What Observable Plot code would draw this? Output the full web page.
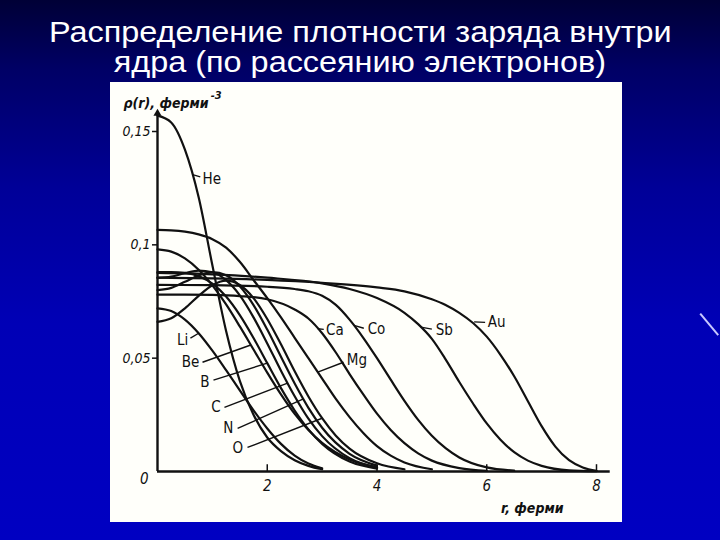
<!DOCTYPE html>
<html><head><meta charset="utf-8">
<script src="https://cdn.jsdelivr.net/npm/d3@7"></script>
<script src="https://cdn.jsdelivr.net/npm/@observablehq/plot@0.6"></script>
<style>
html,body{margin:0;padding:0;}
body{width:720px;height:540px;overflow:hidden;position:relative;
 background:linear-gradient(180deg,#000036 0%,#000066 13%,#000098 35%,#0000b6 60%,#0000c2 100%);
 font-family:"Liberation Sans",Arial,sans-serif;}
.tl{position:absolute;left:0;width:720px;text-align:center;color:#fff;font-size:30px;line-height:30px;height:30px;white-space:nowrap;}
.tl span{display:inline-block;transform:scaleX(1.08);}
#t1{top:17px;}
#t2{top:47px;}
#panel{position:absolute;left:110px;top:82px;width:512px;height:440px;background:#fffffa;}
#deco{position:absolute;left:701px;top:313px;width:28px;height:1.5px;background:#c8c8ff;transform:rotate(50deg);transform-origin:0 0;}
</style></head><body>
<div class="tl" id="t1"><span>Распределение плотности заряда внутри</span></div>
<div class="tl" id="t2"><span>ядра (по рассеянию электронов)</span></div>
<div id="panel"></div>
<div id="deco"></div>
<script>
// ---- data: r (fermi) and rho(r) (fermi^-3) ----
const curveNames = ["He","Li","Be","B","C","N","O","Mg","Ca","Co","Sb","Au"];

const rHe  = [0,0.25,0.5,0.75,1.0,1.25,1.5,1.75,2.0,2.25,2.5,2.75,3.0];
const rhoHe= [0.157,0.154,0.142,0.121,0.091,0.062,0.040,0.025,0.015,0.009,0.005,0.0025,0.001];

const rLi  = [0,0.25,0.5,0.75,1.0,1.25,1.5,1.75,2.0,2.25,2.5,2.75,3.0];
const rhoLi= [0.072,0.0708,0.0670,0.0610,0.0533,0.0447,0.0358,0.0270,0.0190,0.0122,0.0070,0.0035,0.0014];

const rP   = [0,0.25,0.5,0.75,1.0,1.25,1.5,1.75,2.0,2.25,2.5,2.75,3.0,3.5,4.0];
const rhoBe= [0.098,0.0970,0.0940,0.0890,0.0821,0.0737,0.0640,0.0538,0.0436,0.0340,0.0254,0.0183,0.0126,0.0053,0.0018];
const rhoB = [0.0880,0.0880,0.0876,0.0862,0.0829,0.0772,0.0690,0.0589,0.0478,0.0368,0.0269,0.0186,0.0122,0.0044,0.0013];
const rhoC = [0.0854,0.0860,0.0875,0.0886,0.0879,0.0844,0.0777,0.0680,0.0565,0.0445,0.0332,0.0233,0.0156,0.0059,0.0018];
const rhoN = [0.0800,0.0810,0.0837,0.0865,0.0880,0.0866,0.0817,0.0734,0.0626,0.0506,0.0388,0.0281,0.0193,0.0078,0.0026];

const rO   = [0,0.25,0.5,0.75,1.0,1.25,1.5,1.75,2.0,2.25,2.5,2.75,3.0,3.25,3.5,4.0,4.5];
const rhoO = [0.066,0.0676,0.0720,0.0775,0.0822,0.0842,0.0823,0.0765,0.0673,0.0561,0.0442,0.0331,0.0235,0.0158,0.0101,0.0036,0.0010];

const rMg  = [0,0.25,0.5,0.75,1.0,1.25,1.5,1.75,2.0,2.25,2.5,2.75,3.0,3.25,3.5,3.75,4.0,4.25,4.5,5.0];
const rhoMg= [0.1066,0.1064,0.1058,0.1046,0.1025,0.0988,0.0925,0.0845,0.0765,0.0680,0.0590,0.0500,0.0410,0.0320,0.0240,0.0170,0.0112,0.0070,0.0040,0.0010];

const rCa  = [0,0.5,1.0,1.5,2.0,2.5,2.75,3.0,3.25,3.5,3.75,4.0,4.25,4.5,4.75,5.0,5.5,6.0];
const rhoCa= [0.0780,0.0780,0.0779,0.0774,0.0760,0.0715,0.0675,0.0610,0.0525,0.0430,0.0340,0.0255,0.0183,0.0125,0.0080,0.0048,0.0015,0.0003];

const rCo  = [0,1,2,2.5,2.75,3.0,3.25,3.5,3.75,4.0,4.25,4.5,4.75,5.0,5.25,5.5,6.0,6.5];
const rhoCo= [0.0823,0.0822,0.0815,0.0805,0.0795,0.0775,0.0735,0.0670,0.0590,0.0500,0.0405,0.0312,0.0228,0.0158,0.0103,0.0062,0.0018,0.0004];

const rSb  = [0,1,2,3,3.5,4.0,4.5,4.75,5.0,5.25,5.5,5.75,6.0,6.25,6.5,6.75,7.0,7.5,8.0];
const rhoSb= [0.0876,0.0870,0.0855,0.0830,0.0805,0.0765,0.0700,0.0650,0.0585,0.0495,0.0395,0.0300,0.0212,0.0140,0.0085,0.0048,0.0025,0.0005,0.0001];

const rAu  = [0,1,2,3,4,4.5,5.0,5.25,5.5,5.75,6.0,6.25,6.5,6.75,7.0,7.25,7.5,7.75,8.0];
const rhoAu= [0.0855,0.0852,0.0845,0.0832,0.0812,0.0795,0.0760,0.0735,0.0700,0.0655,0.0595,0.0515,0.0420,0.0310,0.0200,0.0110,0.0050,0.0018,0.0003];

// tick labels
const xTicks = [2,4,6,8];
const yTicks = [0.05,0.1,0.15];
const yTitle = "ρ(r), ферми";
const yTitleExp = "-3";
const xTitle = "r, ферми";

// curve labels: point on curve, end of leader, text anchor (data units)
const labelCurveR   = [0.64,0.75,1.70,2.00,2.37,2.66,3.00,2.92,2.92,3.58,4.80,5.77];
const labelCurveRho = [0.131,0.061,0.0558,0.0478,0.039,0.032,0.0235,0.0438,0.063,0.0645,0.0637,0.066];
const labelEndR     = [0.78,0.60,0.82,1.02,1.22,1.46,1.64,3.39,3.03,3.76,5.00,5.97];
const labelEndRho   = [0.130,0.0588,0.0482,0.0403,0.0283,0.0190,0.0106,0.0482,0.0627,0.0632,0.0628,0.0658];
const labelTextR    = [0.82,0.56,0.76,0.95,1.15,1.38,1.56,3.45,3.07,3.83,5.07,6.02];
const labelTextRho  = [0.129,0.058,0.0482,0.0394,0.0283,0.019,0.0102,0.049,0.0624,0.0628,0.0624,0.066];
const labelSide     = ["start","end","end","end","end","end","end","start","start","start","start","start"];

// ---- build tables ----
const seriesR   = [rHe,rLi,rP,rP,rP,rP,rO,rMg,rCa,rCo,rSb,rAu];
const seriesRho = [rhoHe,rhoLi,rhoBe,rhoB,rhoC,rhoN,rhoO,rhoMg,rhoCa,rhoCo,rhoSb,rhoAu];
const rows = [];
curveNames.forEach((name,i) => seriesR[i].forEach((r,j) => rows.push({name, r, rho: seriesRho[i][j]})));
const labels = curveNames.map((name,i) => ({
  name, cx: labelCurveR[i], cy: labelCurveRho[i], ex: labelEndR[i], ey: labelEndRho[i],
  tx: labelTextR[i], ty: labelTextRho[i], side: labelSide[i]
}));

const ink = "#111";
const narrow = "'Liberation Sans Narrow','DejaVu Sans Condensed','Roboto Condensed',sans-serif";
const fmt = d => String(d).replace(".", ",");

const chart = Plot.plot({
  width: 512, height: 440,
  marginLeft: 47, marginRight: 26, marginTop: 49, marginBottom: 51,
  x: {domain: [0, 8]},
  y: {domain: [0, 0.15]},
  style: {background: "transparent", overflow: "visible", fontFamily: narrow, color: ink},
  marks: [
    Plot.line(rows, {x: "r", y: "rho", z: "name", curve: "monotone-x", stroke: ink, strokeWidth: 2.2}),
    Plot.link(labels, {x1: "cx", y1: "cy", x2: "ex", y2: "ey", stroke: ink, strokeWidth: 1.4}),
    Plot.text(labels.filter(d => d.side === "start"), {x: "tx", y: "ty", text: "name", textAnchor: "start", fontSize: 15, fill: ink}),
    Plot.text(labels.filter(d => d.side === "end"), {x: "tx", y: "ty", text: "name", textAnchor: "end", fontSize: 15, fill: ink}),
    Plot.ruleX([0], {y1: 0, y2: 0.158, stroke: ink, strokeWidth: 2.4}),
    Plot.dot([0], {x: 0, y: 0.158, symbol: "triangle", r: 3, fill: ink, stroke: "none"}),
    Plot.ruleY([0], {x1: 0, x2: 8.25, stroke: ink, strokeWidth: 2.4}),
    Plot.ruleX(xTicks, {y1: 0, y2: 0.003, stroke: ink, strokeWidth: 1.5}),
    Plot.axisX(xTicks, {tickSize: 0, tickPadding: 9, tickFormat: fmt, fontSize: 15, fontStyle: "italic", label: null}),
    Plot.axisY(yTicks, {tickSize: 5, tickPadding: 2, tickFormat: fmt, fontSize: 14, fontStyle: "italic", label: null, strokeWidth: 1.5}),
    Plot.axisY([0], {tickSize: 0, tickPadding: 9, dy: 8, tickFormat: fmt, fontSize: 15, fontStyle: "italic", label: null}),
    Plot.text([yTitle], {x: -0.62, y: 0.1624, text: d => d, textAnchor: "start", fontSize: 14, fontStyle: "italic", fontWeight: "bold", fill: ink}),
    Plot.text([yTitleExp], {x: 0.97, y: 0.1658, text: d => d, textAnchor: "start", fontSize: 11, fontStyle: "italic", fontWeight: "bold", fill: ink}),
    Plot.text([xTitle], {x: 6.26, y: -0.0164, text: d => d, textAnchor: "start", fontSize: 14, fontStyle: "italic", fontWeight: "bold", fill: ink})
  ]
});
document.getElementById("panel").appendChild(chart);
</script>
</body></html>
